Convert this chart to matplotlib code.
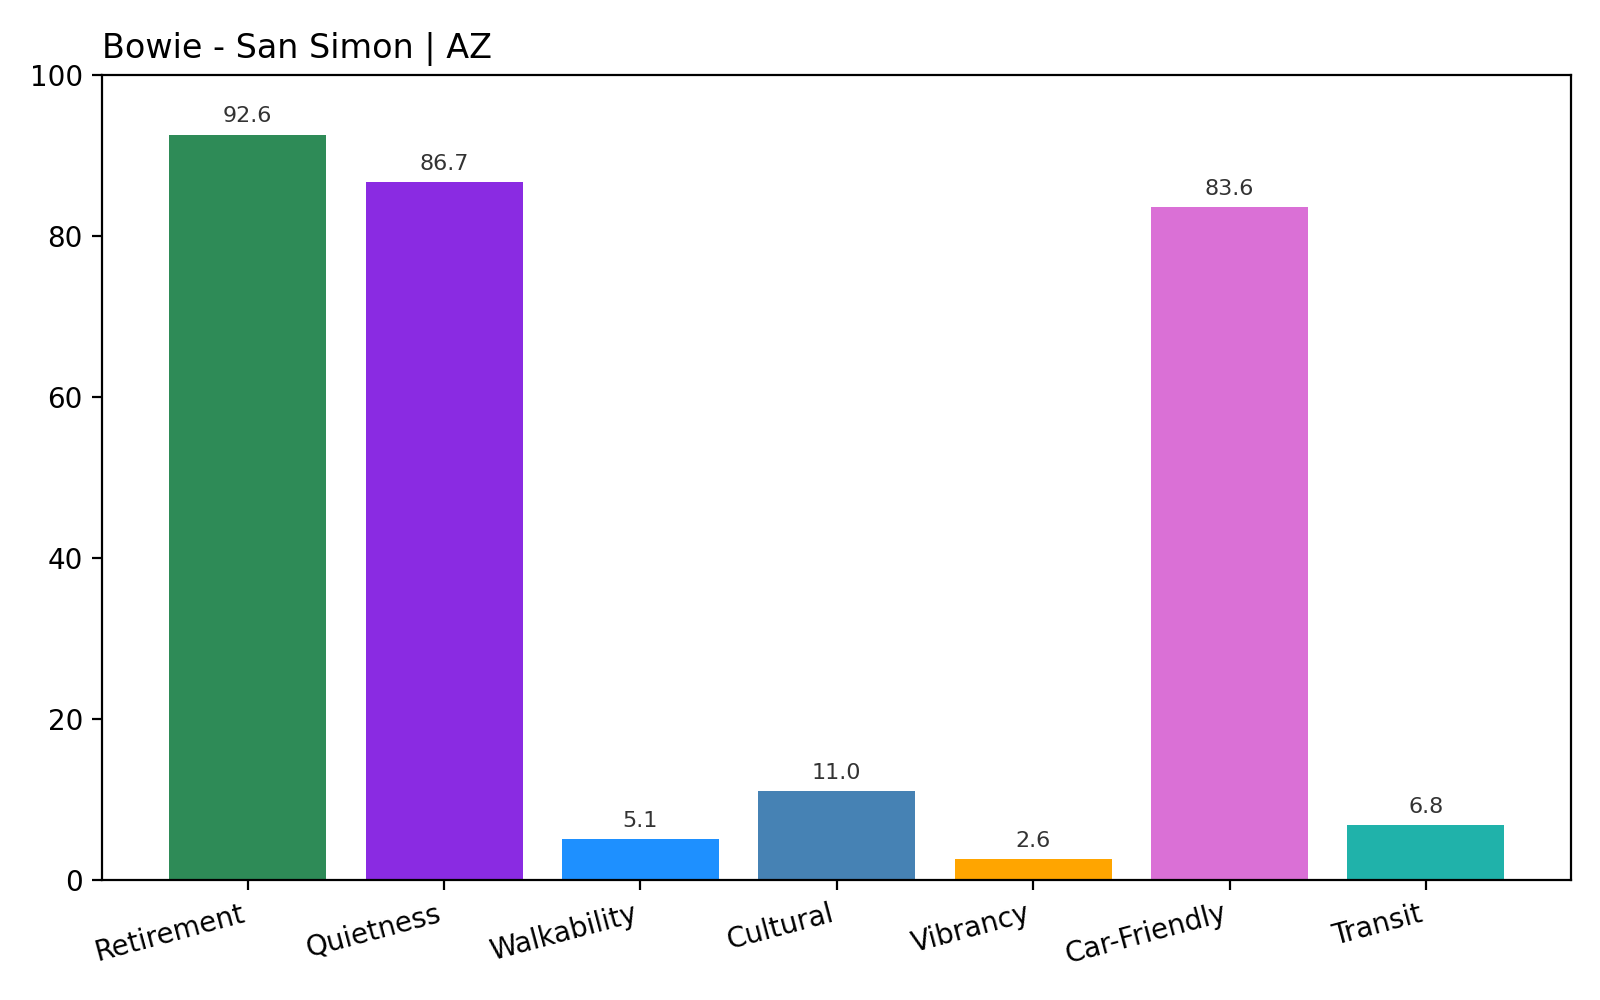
import matplotlib
matplotlib.use('Agg')
import matplotlib.pyplot as plt

categories = ['Retirement', 'Quietness', 'Walkability', 'Cultural', 'Vibrancy', 'Car-Friendly', 'Transit']
scores = [92.6, 86.7, 5.1, 11.0, 2.6, 83.6, 6.8]
bar_colors = ['seagreen', 'blueviolet', 'dodgerblue', 'steelblue', 'orange', 'orchid', 'lightseagreen']
title = 'Bowie - San Simon | AZ'

fig, ax = plt.subplots(figsize=(8, 5), dpi=200)
bars = ax.bar(categories, scores, color=bar_colors)
for b, v in zip(bars, scores):
    ax.annotate(f'{v:.1f}', (b.get_x() + b.get_width() / 2, b.get_height()),
                xytext=(0, 3), textcoords='offset points',
                ha='center', va='bottom', fontsize=8, color='#333333')

ax.set_ylim(0, 100)
ax.set_title(title, loc='left', fontsize=12)
plt.setp(ax.get_xticklabels(), rotation=15, ha='right')

fig.subplots_adjust(left=0.064, right=0.982, bottom=0.12, top=0.925)
fig.savefig('out.png')
